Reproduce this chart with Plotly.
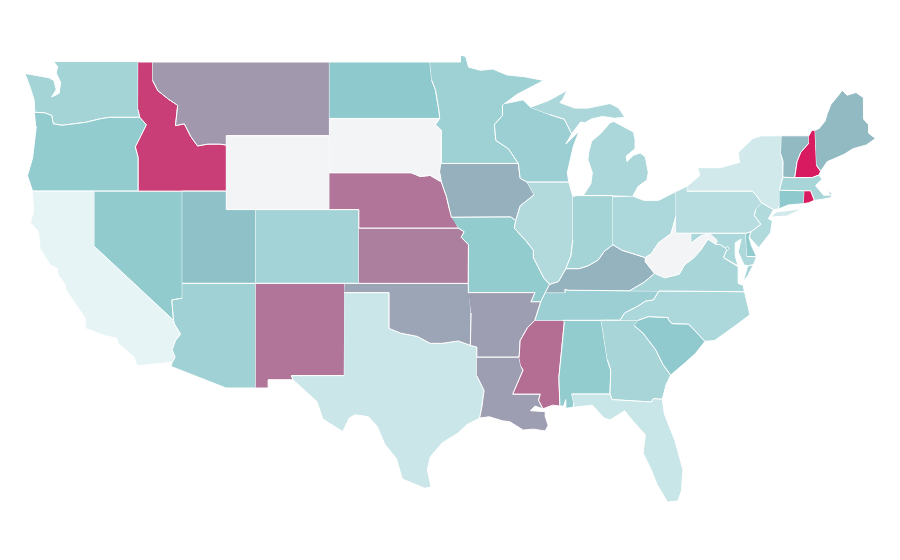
import plotly.graph_objects as go
from plotly.colors import sample_colorscale

# no topojson offline, so state outlines are lon/lat lists drawn on plain axes
GAP = (None, None)

outlines = {
    "WA": [(-122.76, 49), (-122.5, 48.75), (-122.6, 48.4), (-122.3, 47.9), (-122.4, 47.3), (-122.9, 47.1), (-122.6, 47.5), (-122.75, 48.0), (-123.1, 48.15), (-124.72, 48.38), (-124.4, 47.7), (-124.1, 46.95), (-124.05, 46.27), (-123.4, 46.25), (-122.9, 46.1), (-122.8, 45.65), (-122.2, 45.57), (-121.2, 45.65), (-120.6, 45.73), (-119.6, 45.92), (-118.98, 46.0), (-116.92, 46.0), (-117.04, 46.42), (-117.03, 49)],
    "OR": [(-124.05, 46.27), (-123.4, 46.25), (-122.9, 46.1), (-122.8, 45.65), (-122.2, 45.57), (-121.2, 45.65), (-120.6, 45.73), (-119.6, 45.92), (-118.98, 46.0), (-116.92, 46.0), (-116.47, 45.6), (-116.85, 44.95), (-117.22, 44.4), (-117.03, 43.83), (-117.03, 42), (-124.2, 42), (-124.55, 42.84), (-124.2, 43.8), (-124.1, 44.6), (-123.95, 45.5)],
    "CA": [(-124.2, 42), (-120, 42), (-120, 39), (-114.63, 35.0), (-114.57, 34.8), (-114.15, 34.25), (-114.5, 33.9), (-114.72, 33.4), (-114.52, 33.0), (-114.72, 32.72), (-117.12, 32.53), (-117.3, 33.0), (-118.4, 33.75), (-118.5, 34.03), (-119.2, 34.15), (-120.6, 34.55), (-120.65, 35.15), (-121.9, 36.6), (-122.0, 36.95), (-122.5, 37.5), (-122.5, 37.8), (-123.0, 38.0), (-123.7, 38.9), (-123.8, 39.8), (-124.35, 40.3), (-124.1, 41.0)],
    "NV": [(-120, 42), (-114.04, 42), (-114.04, 36.2), (-114.75, 36.1), (-114.63, 35.0), (-120, 39)],
    "ID": [(-117.03, 49), (-116.05, 49), (-116.05, 48.0), (-115.7, 47.45), (-115.0, 47.0), (-114.35, 46.65), (-114.5, 45.55), (-113.9, 45.65), (-113.45, 44.95), (-113.0, 44.45), (-112.3, 44.55), (-111.5, 44.55), (-111.05, 44.5), (-111.05, 42), (-117.03, 42), (-117.03, 43.83), (-117.22, 44.4), (-116.85, 44.95), (-116.47, 45.6), (-116.92, 46.0), (-117.04, 46.42)],
    "MT": [(-116.05, 49), (-104.05, 49), (-104.05, 45), (-111.05, 45), (-111.05, 44.5), (-111.5, 44.55), (-112.3, 44.55), (-113.0, 44.45), (-113.45, 44.95), (-113.9, 45.65), (-114.5, 45.55), (-114.35, 46.65), (-115.0, 47.0), (-115.7, 47.45), (-116.05, 48.0)],
    "WY": [(-111.05, 45), (-104.05, 45), (-104.05, 41), (-111.05, 41)],
    "UT": [(-114.04, 42), (-111.05, 42), (-111.05, 41), (-109.05, 41), (-109.05, 37), (-114.04, 37)],
    "CO": [(-109.05, 41), (-102.05, 41), (-102.05, 37), (-109.05, 37)],
    "AZ": [(-114.04, 37), (-109.05, 37), (-109.05, 31.33), (-111.07, 31.33), (-114.81, 32.5), (-114.72, 32.72), (-114.52, 33.0), (-114.72, 33.4), (-114.5, 33.9), (-114.15, 34.25), (-114.57, 34.8), (-114.63, 35.0), (-114.75, 36.1), (-114.04, 36.2)],
    "NM": [(-109.05, 37), (-103.0, 37), (-103.04, 32), (-106.62, 32), (-106.53, 31.78), (-108.21, 31.78), (-108.21, 31.33), (-109.05, 31.33)],
    "TX": [(-103.04, 36.5), (-100, 36.5), (-100, 34.56), (-99.2, 34.3), (-98.1, 34.13), (-97.2, 33.75), (-96.4, 33.75), (-95.3, 33.88), (-94.48, 33.64), (-94.04, 33.55), (-94.04, 31.99), (-93.55, 31.2), (-93.7, 30.3), (-93.85, 29.7), (-94.7, 29.35), (-95.3, 28.9), (-96.4, 28.35), (-97.2, 27.6), (-97.4, 26.9), (-97.15, 25.96), (-97.6, 25.9), (-99.1, 26.4), (-99.5, 27.5), (-100.3, 28.3), (-100.8, 29.25), (-101.4, 29.77), (-102.3, 29.88), (-102.7, 29.7), (-103.15, 28.97), (-104.5, 29.65), (-104.9, 30.6), (-106.53, 31.78), (-106.62, 32), (-103.04, 32)],
    "OK": [(-103, 37), (-94.62, 37), (-94.43, 35.4), (-94.48, 33.64), (-95.3, 33.88), (-96.4, 33.75), (-97.2, 33.75), (-98.1, 34.13), (-99.2, 34.3), (-100, 34.56), (-100, 36.5), (-103.04, 36.5)],
    "KS": [(-102.05, 40), (-95.3, 40), (-94.9, 39.8), (-95.1, 39.5), (-94.61, 39.1), (-94.62, 37), (-102.05, 37)],
    "NE": [(-104.05, 43), (-98.5, 43), (-97.9, 42.8), (-97.2, 42.85), (-96.45, 42.5), (-96.1, 41.7), (-95.9, 41.0), (-95.3, 40), (-102.05, 40), (-102.05, 41), (-104.05, 41)],
    "SD": [(-104.05, 45.94), (-96.56, 45.94), (-96.85, 45.6), (-96.45, 45.3), (-96.45, 43.5), (-96.55, 43.0), (-96.45, 42.5), (-97.2, 42.85), (-97.9, 42.8), (-98.5, 43), (-104.05, 43)],
    "ND": [(-104.05, 49), (-97.23, 49), (-97.1, 48), (-96.85, 47.5), (-96.6, 46.3), (-96.56, 45.94), (-104.05, 45.94)],
    "MN": [(-97.23, 49), (-95.15, 49), (-95.15, 49.38), (-94.8, 49.3), (-94.6, 48.72), (-93.8, 48.55), (-92.95, 48.62), (-92.0, 48.3), (-90.8, 48.2), (-89.5, 48.0), (-91.3, 47.25), (-92.1, 46.75), (-92.3, 46.66), (-92.3, 46.1), (-92.85, 45.6), (-92.75, 44.75), (-91.9, 44.3), (-91.22, 43.5), (-96.45, 43.5), (-96.45, 45.3), (-96.85, 45.6), (-96.56, 45.94), (-96.6, 46.3), (-96.85, 47.5), (-97.1, 48)],
    "IA": [(-96.45, 43.5), (-91.22, 43.5), (-91.1, 42.7), (-90.64, 42.5), (-90.15, 41.8), (-91.1, 41.2), (-91.4, 40.4), (-91.73, 40.6), (-95.77, 40.58), (-95.9, 41.0), (-96.1, 41.7), (-96.45, 42.5), (-96.55, 43.0)],
    "MO": [(-95.77, 40.58), (-91.73, 40.6), (-91.4, 40.4), (-91.5, 40), (-90.7, 39.3), (-90.2, 38.8), (-90.2, 38.4), (-89.5, 37.3), (-89.1, 36.95), (-89.4, 36.5), (-89.7, 36), (-90.37, 36), (-90.1, 36.5), (-94.62, 36.5), (-94.62, 37), (-94.61, 39.1), (-95.1, 39.5), (-94.9, 39.8), (-95.3, 40)],
    "AR": [(-94.62, 36.5), (-90.1, 36.5), (-90.37, 36), (-89.7, 36), (-90.1, 35), (-90.6, 34.6), (-91.1, 33.9), (-91.17, 33), (-94.04, 33), (-94.04, 33.55), (-94.48, 33.64), (-94.43, 35.4)],
    "LA": [(-94.04, 33), (-91.17, 33), (-91.05, 32.5), (-90.9, 32.3), (-91.6, 31), (-89.73, 31), (-89.85, 30.67), (-89.55, 30.2), (-90.1, 30.35), (-90.4, 30.1), (-89.4, 30.05), (-89.4, 29.8), (-89.2, 29.3), (-89.4, 29.0), (-90.2, 29.1), (-90.9, 29.05), (-91.8, 29.5), (-92.3, 29.55), (-93.2, 29.77), (-93.85, 29.7), (-93.7, 30.3), (-93.55, 31.2), (-94.04, 31.99)],
    "MS": [(-91.17, 33), (-91.1, 33.9), (-90.6, 34.6), (-90.1, 35), (-88.2, 35), (-88.1, 34.9), (-88.47, 31.9), (-88.4, 30.35), (-88.9, 30.4), (-89.55, 30.2), (-89.85, 30.67), (-89.73, 31), (-91.6, 31), (-90.9, 32.3), (-91.05, 32.5)],
    "AL": [(-88.2, 35), (-85.6, 35), (-85.18, 32.87), (-84.95, 32.3), (-85.0, 31.0), (-87.6, 31), (-87.45, 30.5), (-87.5, 30.28), (-88.0, 30.23), (-88.0, 30.7), (-88.15, 30.35), (-88.4, 30.35), (-88.47, 31.9), (-88.1, 34.9)],
    "TN": [(-90.1, 35), (-89.7, 36), (-89.4, 36.5), (-88.05, 36.5), (-88.07, 36.68), (-87.85, 36.63), (-83.67, 36.6), (-81.68, 36.59), (-82.05, 36.1), (-82.6, 36.03), (-83.1, 35.77), (-84.0, 35.4), (-84.32, 35), (-85.6, 35), (-88.2, 35)],
    "KY": [(-89.4, 36.5), (-89.1, 36.95), (-88.5, 37.1), (-88.0, 37.8), (-87.1, 37.8), (-86.5, 37.95), (-85.8, 38.27), (-85.4, 38.73), (-84.8, 39.1), (-84.2, 38.8), (-83.6, 38.65), (-82.6, 38.4), (-82.6, 38.17), (-81.97, 37.54), (-82.7, 37.05), (-83.67, 36.6), (-87.85, 36.63), (-88.07, 36.68), (-88.05, 36.5)],
    "IL": [(-90.64, 42.5), (-87.8, 42.5), (-87.53, 41.72), (-87.53, 39.35), (-87.65, 38.5), (-88.0, 37.8), (-88.5, 37.1), (-89.1, 36.95), (-89.5, 37.3), (-90.2, 38.4), (-90.2, 38.8), (-90.7, 39.3), (-91.5, 40), (-91.4, 40.4), (-91.1, 41.2), (-90.15, 41.8)],
    "IN": [(-87.53, 41.72), (-87.2, 41.76), (-86.82, 41.76), (-84.8, 41.76), (-84.8, 39.1), (-85.4, 38.73), (-85.8, 38.27), (-86.5, 37.95), (-87.1, 37.8), (-88.0, 37.8), (-87.65, 38.5), (-87.53, 39.35)],
    "OH": [(-84.8, 41.7), (-83.45, 41.73), (-82.7, 41.5), (-81.7, 41.5), (-80.52, 41.98), (-80.52, 40.64), (-80.85, 39.7), (-81.7, 39.2), (-82.2, 38.6), (-82.6, 38.4), (-83.6, 38.65), (-84.2, 38.8), (-84.8, 39.1)],
    "WI": [(-92.1, 46.75), (-90.9, 46.95), (-90.4, 46.55), (-89.1, 46.15), (-88.1, 45.9), (-87.6, 45.1), (-88.0, 44.55), (-87.1, 45.25), (-87.5, 44.4), (-87.75, 43.6), (-87.9, 43), (-87.8, 42.5), (-90.64, 42.5), (-91.1, 42.7), (-91.22, 43.5), (-91.9, 44.3), (-92.75, 44.75), (-92.85, 45.6), (-92.3, 46.1), (-92.3, 46.66)],
    "MI": [(-84.8, 41.76), (-86.82, 41.76), (-86.3, 42.4), (-86.2, 43.0), (-86.5, 43.7), (-86.45, 44.1), (-86.25, 44.7), (-85.6, 45.15), (-85.0, 45.7), (-84.75, 45.78), (-83.4, 45.2), (-83.3, 44.8), (-83.3, 44.3), (-83.9, 43.9), (-83.85, 43.6), (-83.4, 43.95), (-82.95, 44.07), (-82.6, 43.85), (-82.4, 43.0), (-82.5, 42.6), (-83.1, 42.25), (-83.45, 41.73), GAP,
           (-90.4, 46.55), (-89.2, 46.9), (-88.5, 47.2), (-87.9, 47.47), (-88.2, 47.0), (-88.4, 46.8), (-87.4, 46.5), (-86.5, 46.5), (-85.0, 46.75), (-84.4, 46.5), (-84.0, 46.0), (-84.7, 45.95), (-85.5, 46.05), (-86.3, 45.9), (-86.7, 45.7), (-87.0, 45.75), (-87.6, 45.1), (-88.1, 45.9), (-89.1, 46.15)],
    "GA": [(-85.6, 35), (-83.1, 35), (-83.35, 34.7), (-82.75, 34.3), (-81.9, 33.4), (-81.4, 32.6), (-80.88, 32.03), (-81.2, 31.5), (-81.45, 30.72), (-82.05, 30.75), (-82.2, 30.57), (-84.86, 30.7), (-85.0, 31.0), (-84.95, 32.3), (-85.18, 32.87)],
    "FL": [(-87.6, 31), (-85.0, 31), (-84.86, 30.7), (-82.2, 30.57), (-82.05, 30.75), (-81.45, 30.72), (-81.3, 29.9), (-80.6, 28.5), (-80.05, 26.9), (-80.15, 25.75), (-80.4, 25.2), (-81.1, 25.15), (-81.8, 26.1), (-82.2, 26.9), (-82.75, 27.8), (-82.6, 28.8), (-83.4, 29.5), (-84.0, 30.1), (-85.0, 29.6), (-85.4, 29.7), (-86.2, 30.4), (-87.5, 30.28), (-87.45, 30.5)],
    "SC": [(-83.1, 35), (-82.4, 35.2), (-81.05, 35.15), (-81.04, 35.05), (-80.8, 34.82), (-79.67, 34.8), (-78.55, 33.86), (-79.2, 33.2), (-79.9, 32.7), (-80.88, 32.03), (-81.4, 32.6), (-81.9, 33.4), (-82.75, 34.3), (-83.35, 34.7)],
    "NC": [(-84.32, 35), (-84.0, 35.4), (-83.1, 35.77), (-82.6, 36.03), (-82.05, 36.1), (-81.68, 36.59), (-75.87, 36.55), (-75.5, 35.3), (-76.5, 34.7), (-77.9, 33.9), (-78.55, 33.86), (-79.67, 34.8), (-80.8, 34.82), (-81.04, 35.05), (-81.05, 35.15), (-82.4, 35.2), (-83.1, 35)],
    "VA": [(-83.67, 36.6), (-82.7, 37.05), (-81.97, 37.54), (-81.3, 37.3), (-80.3, 37.5), (-79.95, 38.0), (-79.3, 38.4), (-78.87, 38.78), (-78.35, 39.4), (-77.83, 39.13), (-77.5, 39.1), (-77.05, 38.85), (-77.3, 38.4), (-76.3, 37.9), (-76.3, 37.0), (-75.97, 36.9), (-75.87, 36.55), (-81.68, 36.59), GAP,
           (-75.95, 37.15), (-75.65, 37.95), (-75.25, 38.03), (-75.6, 37.5)],
    "WV": [(-81.97, 37.54), (-82.6, 38.17), (-82.6, 38.4), (-82.2, 38.6), (-81.7, 39.2), (-80.85, 39.7), (-80.52, 40.64), (-80.52, 39.72), (-79.48, 39.72), (-79.48, 39.2), (-78.8, 39.6), (-78.2, 39.68), (-77.72, 39.32), (-77.83, 39.13), (-78.35, 39.4), (-78.87, 38.78), (-79.3, 38.4), (-79.95, 38.0), (-80.3, 37.5), (-81.3, 37.3)],
    "MD": [(-79.48, 39.72), (-75.79, 39.72), (-75.7, 38.46), (-75.05, 38.45), (-75.25, 38.03), (-75.65, 37.95), (-75.9, 38.0), (-76.3, 38.7), (-76.1, 39.4), (-76.5, 39.2), (-76.5, 38.5), (-76.3, 37.95), (-77.3, 38.4), (-77.05, 38.85), (-77.5, 39.1), (-77.83, 39.13), (-77.72, 39.32), (-78.2, 39.68), (-78.8, 39.6), (-79.48, 39.2)],
    "DE": [(-75.79, 39.72), (-75.42, 39.8), (-75.55, 39.5), (-75.4, 39.05), (-75.05, 38.45), (-75.7, 38.46)],
    "DC": [(-77.12, 38.93), (-77.04, 39), (-76.91, 38.89), (-77.04, 38.8)],
    "PA": [(-80.52, 41.98), (-79.76, 42.27), (-79.76, 42), (-75.35, 42), (-75.05, 41.75), (-74.7, 41.36), (-75.1, 41), (-75.2, 40.68), (-74.75, 40.2), (-75.42, 39.8), (-75.79, 39.72), (-80.52, 39.72)],
    "NJ": [(-74.7, 41.36), (-73.9, 41), (-74.25, 40.5), (-73.98, 40.4), (-74.1, 39.75), (-74.9, 38.93), (-75.55, 39.5), (-75.42, 39.8), (-74.75, 40.2), (-75.2, 40.68), (-75.1, 41)],
    "NY": [(-79.76, 42.27), (-78.9, 42.85), (-79.05, 43.27), (-77.5, 43.27), (-76.5, 43.5), (-76.2, 43.55), (-76.3, 44.1), (-75.3, 44.85), (-74.7, 45), (-73.35, 45), (-73.4, 44), (-73.25, 43.6), (-73.27, 42.75), (-73.5, 42.05), (-73.49, 41.2), (-73.66, 41), (-73.9, 41), (-74.7, 41.36), (-75.05, 41.75), (-75.35, 42), (-79.76, 42), GAP,
           (-74.03, 40.6), (-73.0, 40.65), (-71.9, 41.05), (-72.6, 40.98), (-73.7, 40.87)],
    "VT": [(-73.35, 45), (-71.5, 45), (-71.5, 44.6), (-72.05, 44.1), (-72.3, 43.6), (-72.46, 42.73), (-73.27, 42.75), (-73.25, 43.6), (-73.4, 44)],
    "NH": [(-71.5, 45), (-71.3, 45.3), (-71.08, 45.3), (-70.98, 43.4), (-70.7, 43.08), (-70.82, 42.87), (-71.25, 42.74), (-72.46, 42.73), (-72.3, 43.6), (-72.05, 44.1), (-71.5, 44.6)],
    "ME": [(-71.08, 45.3), (-70.8, 45.4), (-70.4, 45.8), (-70.25, 46.2), (-70, 46.7), (-69.23, 47.46), (-68.9, 47.2), (-68.3, 47.35), (-67.8, 47.07), (-67.78, 45.9), (-67.45, 45.6), (-67.45, 45.15), (-66.98, 44.85), (-67.6, 44.5), (-68.5, 44.3), (-69.1, 44), (-69.8, 43.75), (-70.25, 43.6), (-70.7, 43.08), (-70.98, 43.4)],
    "MA": [(-73.5, 42.05), (-73.27, 42.75), (-72.46, 42.73), (-71.25, 42.74), (-70.82, 42.87), (-70.6, 42.65), (-71.05, 42.3), (-70.65, 41.95), (-70.5, 41.78), (-70.05, 41.78), (-70.25, 42.05), (-69.97, 41.9), (-69.98, 41.65), (-70.65, 41.55), (-71.13, 41.5), (-71.38, 42.02), (-71.8, 42.02)],
    "CT": [(-73.5, 42.05), (-71.8, 42.02), (-71.85, 41.32), (-72.9, 41.25), (-73.66, 41), (-73.49, 41.2)],
    "RI": [(-71.8, 42.02), (-71.38, 42.02), (-71.13, 41.5), (-71.5, 41.37), (-71.85, 41.32)],
}

# position on the colour ramp below
states = ["CA", "FL", "TX", "NY", "PA", "IL", "NJ", "MD", "NC", "OH", "MI", "VA", "GA", "MA", "WA",
          "IN", "CO", "AZ", "MN", "WI", "TN", "OR", "AL", "MO", "NV", "DE", "SC", "ND", "CT", "DC",
          "UT", "ME", "VT", "KY", "IA", "OK", "AR", "LA", "MT", "KS", "NE", "NM", "MS", "ID", "NH", "RI"]
values = [0, 17, 16, 12, 26, 29, 30, 32, 32, 32, 33, 35, 35, 35, 36,
          36, 37, 39, 40, 42, 42, 46, 46, 46, 47, 47, 48, 49, 49, 47,
          52, 54, 54, 56, 57, 60, 62, 62, 64, 71, 74, 74, 76, 90, 100, 100]

colorscale = [[0, "#e7f4f5"], [0.5, "#8cc8cc"], [1, "#d81b60"]]
no_data_color = "#f2f4f5"

color_by_state = dict(zip(states, sample_colorscale(colorscale, [v / 100 for v in values])))
value_by_state = dict(zip(states, values))

fig = go.Figure()
for state, points in outlines.items():
    fig.add_trace(go.Scatter(
        x=[p[0] for p in points],
        y=[p[1] for p in points],
        mode="lines",
        fill="toself",
        fillcolor=color_by_state.get(state, no_data_color),
        line=dict(color="white", width=1),
        name=state,
        text=f"{state}: {value_by_state.get(state, 'n/a')}",
        hoverinfo="text",
        showlegend=False,
    ))

# ranges keep the plain lon/lat stretch of the original map
fig.update_xaxes(visible=False, range=[-125.87, -64.77], fixedrange=True)
fig.update_yaxes(visible=False, range=[21.574, 51.926], fixedrange=True)
fig.update_layout(
    width=900,
    height=560,
    margin=dict(l=0, r=0, t=0, b=0),
    paper_bgcolor="white",
    plot_bgcolor="white",
)
fig.write_html("out.html")
